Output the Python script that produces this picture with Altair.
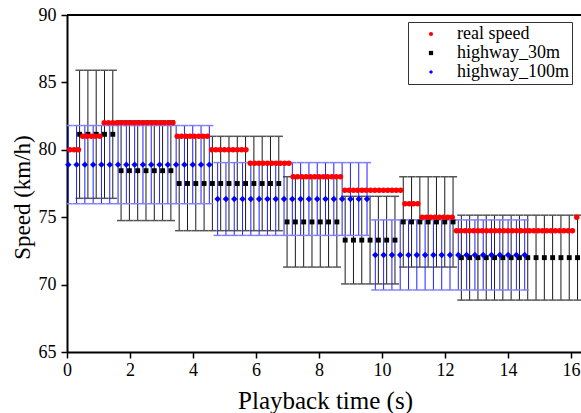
import altair as alt
import pandas as pd

# ---------------- data ----------------
series_names = ["real speed", "highway_30m", "highway_100m"]
series_colors = ["#ff0000", "#000000", "#0000ff"]
series_shapes = ["circle", "square", "diamond"]
series_sizes = {"real speed": 30, "highway_30m": 24, "highway_100m": 42}

# real speed: step segments (speed km/h, number of samples), uniform sampling
real_values = [80, 81, 82, 81, 80, 79, 78, 77, 76, 75, 74, 75]
real_counts = [3, 5, 17, 8, 9, 10, 12, 14, 4, 8, 28, 1]
real_start = 0.09
real_step = 0.1364

# highway_30m: groups (mean, error, number of samples)
hw30_means = [81.15, 78.45, 77.5, 74.65, 73.3, 74.65, 72.0]
hw30_errs = [4.75, 3.7, 3.5, 3.35, 3.25, 3.35, 3.15]
hw30_counts = [5, 7, 13, 7, 7, 7, 15]
hw30_start = 0.40
hw30_step = 0.2635

# highway_100m: groups (mean, error, number of samples)
hw100_means = [78.9, 76.35, 72.2]
hw100_errs = [2.9, 2.7, 2.6]
hw100_counts = [18, 19, 19]
hw100_start = 0.04
hw100_step = 0.2635

x_ticks = list(range(0, 17))
y_ticks = [65, 67.5, 70, 72.5, 75, 77.5, 80, 82.5, 85, 87.5, 90]
x_domain = [0, 16.32]
y_domain = [65, 90]


def expand(name, values, errs, counts, start, step):
    rows = []
    i = 0
    for v, e, c in zip(values, errs, counts):
        for _ in range(c):
            rows.append({"series": name, "t": start + i * step, "v": v, "err": e,
                         "sz": series_sizes[name]})
            i += 1
    return rows


rows = (
    expand("highway_30m", hw30_means, hw30_errs, hw30_counts, hw30_start, hw30_step)
    + expand("highway_100m", hw100_means, hw100_errs, hw100_counts, hw100_start, hw100_step)
    + expand("real speed", real_values, [0] * len(real_values), real_counts, real_start, real_step)
)
df = pd.DataFrame(rows)

W, H = 514, 337
FONT = "Liberation Serif"

xs = alt.Scale(domain=x_domain, nice=False, zero=False)
ys = alt.Scale(domain=y_domain, nice=False, zero=False)

base = alt.Chart(df).transform_calculate(
    lo="datum.v - datum.err",
    hi="datum.v + datum.err",
    tl="datum.t - 0.13",
    tr="datum.t + 0.13",
)

x_axis = alt.Axis(
    values=x_ticks,
    labelExpr="datum.value % 2 === 0 ? datum.label : ''",
    tickSize={"condition": {"test": "datum.value % 2 === 0", "value": 6}, "value": 3},
    title="Playback time (s)",
    grid=False,
    domainColor="black",
    domainWidth=2,
    tickColor="black",
    tickWidth=1.5,
    labelFont=FONT,
    labelFontSize=18,
    labelColor="black",
    labelPadding=3,
    labelFlush=False,
    labelOverlap=False,
    titleFont=FONT,
    titleFontSize=25,
    titleFontWeight="normal",
    titleColor="black",
    titleX=258,
    titleY=48,
    titleBaseline="middle",
)
y_axis = alt.Axis(
    values=y_ticks,
    labelExpr="datum.value % 5 === 0 ? datum.label : ''",
    tickSize={"condition": {"test": "datum.value % 5 === 0", "value": 6}, "value": 3},
    title="Speed (km/h)",
    grid=False,
    domainColor="black",
    domainWidth=2,
    tickColor="black",
    tickWidth=1.5,
    labelFont=FONT,
    labelFontSize=18,
    labelColor="black",
    labelPadding=5,
    labelFlush=False,
    labelOverlap=False,
    titleFont=FONT,
    titleFontSize=23,
    titleFontWeight="normal",
    titleColor="black",
    titleX=-45,
    titleY=182,
    titleAngle=-90,
    titleAlign="center",
    titleBaseline="middle",
)

def bars(name, color):
    return base.transform_filter(alt.datum.series == name).mark_rule(
        color=color, strokeWidth=1
    ).encode(
        x=alt.X("t:Q", scale=xs, axis=x_axis),
        y=alt.Y("lo:Q", scale=ys, axis=y_axis),
        y2="hi:Q",
    )

def caps(name, color, field):
    return base.transform_filter(alt.datum.series == name).mark_rule(
        color=color, strokeWidth=1.5, clip=True
    ).encode(
        x=alt.X("tl:Q", scale=xs),
        x2="tr:Q",
        y=alt.Y(f"{field}:Q", scale=ys),
    )

points = base.mark_point(filled=True, opacity=1, strokeWidth=0).encode(
    x=alt.X("t:Q", scale=xs),
    y=alt.Y("v:Q", scale=ys),
    color=alt.Color(
        "series:N",
        scale=alt.Scale(domain=series_names, range=series_colors),
        legend=alt.Legend(
            title=" ",
            titleOrient="left",
            titleFontSize=1,
            titlePadding=11,
            orient="none",
            legendX=341,
            legendY=7,
            labelFont=FONT,
            labelFontSize=18,
            labelColor="black",
            symbolSize=18,
            symbolOffset=0,
            labelOffset=17,
            rowPadding=1,
            padding=3,
            strokeColor="#333333",
            fillColor="white",
        ),
    ),
    shape=alt.Shape(
        "series:N",
        scale=alt.Scale(domain=series_names, range=series_shapes),
    ),
    size=alt.Size("sz:Q", scale=None),
)

top_frame = alt.Chart(pd.DataFrame({"v": [90]})).mark_rule(
    color="black", strokeWidth=2
).encode(
    y=alt.Y("v:Q", scale=ys),
    x=alt.value(0),
    x2=alt.value(W),
)

chart = alt.layer(
    bars("highway_30m", "#1a1a1a"),
    caps("highway_30m", "#555555", "hi"),
    caps("highway_30m", "#555555", "lo"),
    bars("highway_100m", "#2020ff"),
    caps("highway_100m", "#8080ff", "hi"),
    caps("highway_100m", "#8080ff", "lo"),
    points,
    top_frame,
).properties(
    width=W,
    height=H,
    autosize=alt.AutoSizeParams(type="none"),
    padding={"left": 67, "top": 15, "right": 0, "bottom": 61},
).configure_view(stroke=None).configure(background="white")

chart.save("out.html", embed_options={"renderer": "svg", "actions": False})
